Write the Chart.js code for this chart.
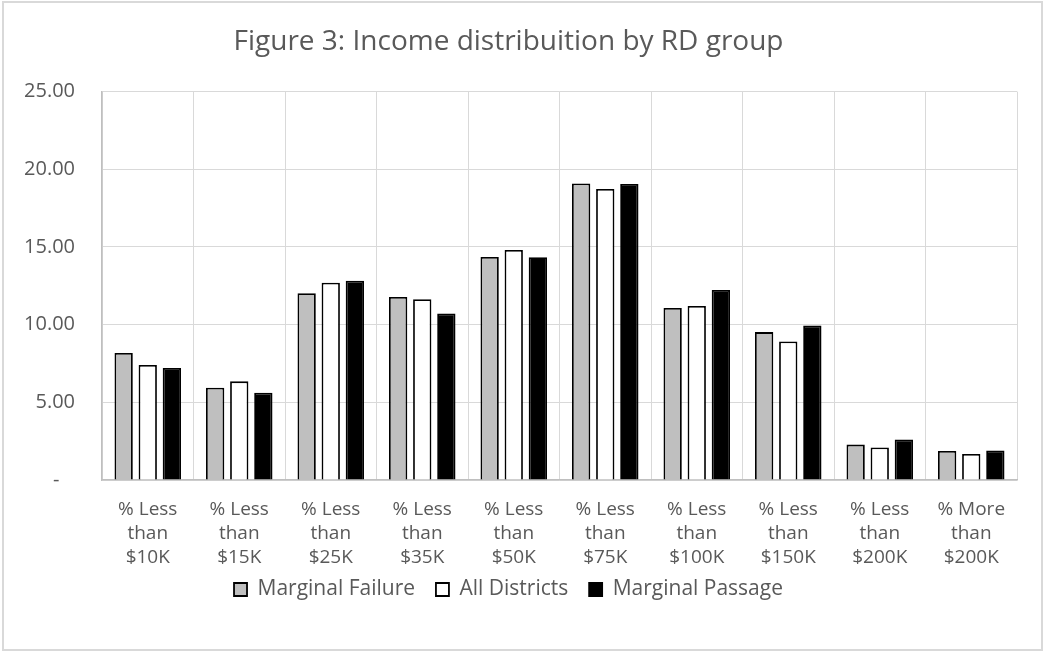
<!DOCTYPE html>
<html>
<head>
<meta charset="utf-8">
<script src="https://cdn.jsdelivr.net/npm/chart.js@4"></script>
<style>
  body { margin: 0; background: #fff; }
  #wrap { position: relative; width: 1045px; height: 653px; }
  #frame { position: absolute; left: 2px; top: 1px; width: 1041px; height: 650px;
           border: 2px solid #d9d9d9; box-sizing: border-box; pointer-events: none; }
</style>
</head>
<body>
<div id="wrap">
  <canvas id="chart" width="1045" height="653"></canvas>
  <div id="frame"></div>
</div>
<script>
const categories = [
  ['% Less', 'than', '$10K'],
  ['% Less', 'than', '$15K'],
  ['% Less', 'than', '$25K'],
  ['% Less', 'than', '$35K'],
  ['% Less', 'than', '$50K'],
  ['% Less', 'than', '$75K'],
  ['% Less', 'than', '$100K'],
  ['% Less', 'than', '$150K'],
  ['% Less', 'than', '$200K'],
  ['% More', 'than', '$200K']
];
const marginalFailure = [8.18, 5.94, 12.02, 11.78, 14.36, 19.08, 11.07, 9.52, 2.28, 1.87];
const allDistricts    = [7.41, 6.35, 12.70, 11.63, 14.81, 18.73, 11.20, 8.91, 2.09, 1.68];
const marginalPassage = [7.21, 5.62, 12.83, 10.72, 14.34, 19.06, 12.23, 9.95, 2.61, 1.90];
const yTicks = [0, 5, 10, 15, 20, 25];

const font = "'Open Sans', 'Noto Sans', sans-serif";
const textColor = '#595959';

new Chart(document.getElementById('chart'), {
  type: 'bar',
  data: {
    labels: categories,
    datasets: [
      { label: 'Marginal Failure', data: marginalFailure, backgroundColor: '#bfbfbf' },
      { label: 'All Districts', data: allDistricts, backgroundColor: '#ffffff' },
      { label: 'Marginal Passage', data: marginalPassage, backgroundColor: '#000000' }
    ].map(d => Object.assign(d, {
      borderColor: '#000000',
      borderWidth: 1.8,
      categoryPercentage: 0.79,
      barPercentage: 0.76
    }))
  },
  options: {
    responsive: false,
    animation: false,
    layout: { padding: { left: 0, right: 28, top: 0, bottom: 43 } },
    plugins: {
      title: {
        display: true,
        text: 'Figure 3: Income distribuition by RD group',
        color: textColor,
        font: { family: font, size: 28, weight: 'normal' },
        padding: { top: 25, bottom: 33 }
      },
      legend: {
        position: 'bottom',
        labels: {
          color: textColor,
          font: { family: font, size: 21 },
          boxWidth: 13,
          boxHeight: 13,
          padding: 10,
          generateLabels: chart => {
            const items = Chart.defaults.plugins.legend.labels.generateLabels(chart);
            items.forEach((it, i) => { if (i < items.length - 1) it.text += '  '; });
            return items;
          }
        }
      },
      tooltip: { enabled: false }
    },
    scales: {
      x: {
        afterFit: s => { s.height = 89; },
        grid: { color: '#d9d9d9', lineWidth: 1, drawTicks: false },
        border: { color: '#bfbfbf', width: 1.5 },
        ticks: {
          color: textColor,
          font: { family: font, size: 19, lineHeight: 1.26 },
          padding: 18,
          maxRotation: 0,
          autoSkip: false
        }
      },
      y: {
        min: 0,
        max: 25,
        afterFit: s => { s.width = 102; },
        afterBuildTicks: s => { s.ticks = yTicks.map(v => ({ value: v })); },
        grid: { color: '#d9d9d9', lineWidth: 1, drawTicks: false },
        border: { color: '#bfbfbf', width: 1.5 },
        ticks: {
          color: textColor,
          font: { family: font, size: 20 },
          padding: 27,
          callback: v => v === 0 ? '-   ' : v.toFixed(2)
        }
      }
    }
  }
});
</script>
</body>
</html>
